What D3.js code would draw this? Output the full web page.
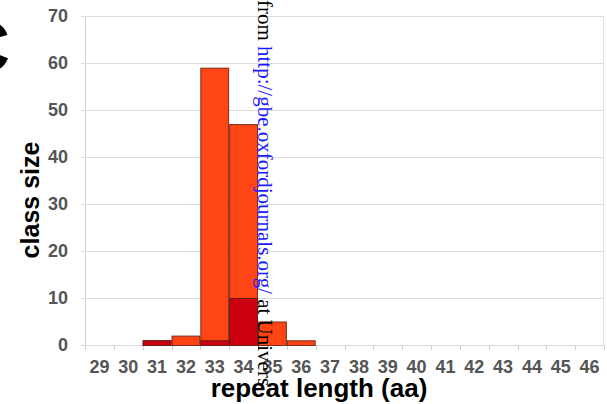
<!DOCTYPE html>
<html>
<head>
<meta charset="utf-8">
<script src="https://cdn.jsdelivr.net/npm/d3@7"></script>
<style>
  html, body { margin: 0; padding: 0; background: #fff; }
  svg { display: block; }
</style>
</head>
<body>
<svg id="chart" width="607" height="404"></svg>
<script>
// Repeat length classes (aa) and class sizes
const categories = [29, 30, 31, 32, 33, 34, 35, 36, 37, 38, 39, 40, 41, 42, 43, 44, 45, 46];
const totalCounts = [0, 0, 1, 2, 59, 47, 5, 1, 0, 0, 0, 0, 0, 0, 0, 0, 0, 0];
const subsetCounts = [0, 0, 1, 0, 1, 10, 0, 0, 0, 0, 0, 0, 0, 0, 0, 0, 0, 0];
const yTicks = [0, 10, 20, 30, 40, 50, 60, 70];

const svg = d3.select("#chart");
const plot = { left: 85, right: 604, top: 16, bottom: 345 };

const x = d3.scaleBand().domain(categories).range([plot.left, plot.right]).padding(0);
const y = d3.scaleLinear().domain([0, 70]).range([plot.bottom, plot.top]);

const font = "Arial, 'Liberation Sans', Helvetica, sans-serif";

// Horizontal grid lines
svg.append("g")
  .selectAll("line")
  .data(yTicks)
  .join("line")
  .attr("x1", plot.left - 4)
  .attr("x2", plot.right)
  .attr("y1", d => y(d) + 0.5)
  .attr("y2", d => y(d) + 0.5)
  .attr("stroke", "#dcdcdc")
  .attr("stroke-width", 1);

// Plot frame sides
svg.append("line")
  .attr("x1", plot.left + 0.5).attr("x2", plot.left + 0.5)
  .attr("y1", plot.top).attr("y2", plot.bottom)
  .attr("stroke", "#d4d4d4");
svg.append("line")
  .attr("x1", plot.right - 0.5).attr("x2", plot.right - 0.5)
  .attr("y1", plot.top).attr("y2", plot.bottom)
  .attr("stroke", "#e4e4e4");

// Category boundary ticks below the x axis
const boundaries = categories.map(c => x(c)).concat([plot.right]);
svg.append("g")
  .selectAll("line")
  .data(boundaries)
  .join("line")
  .attr("x1", d => Math.round(d) + 0.5)
  .attr("x2", d => Math.round(d) + 0.5)
  .attr("y1", plot.bottom)
  .attr("y2", plot.bottom + 5)
  .attr("stroke", "#d0d0d0");

// Y tick labels
svg.append("g")
  .selectAll("text")
  .data(yTicks)
  .join("text")
  .attr("x", 68)
  .attr("y", d => y(d))
  .attr("dy", "0.36em")
  .attr("text-anchor", "end")
  .attr("font-family", font)
  .attr("font-weight", "bold")
  .attr("font-size", 18)
  .attr("fill", "#555")
  .text(d => d);

// X tick labels
svg.append("g")
  .selectAll("text")
  .data(categories)
  .join("text")
  .attr("x", d => x(d) + x.bandwidth() / 2)
  .attr("y", 373)
  .attr("text-anchor", "middle")
  .attr("font-family", font)
  .attr("font-weight", "bold")
  .attr("font-size", 18)
  .attr("fill", "#555")
  .text(d => d);

// All repeats
svg.append("g")
  .selectAll("rect")
  .data(categories.map((c, i) => ({ c, v: totalCounts[i] })).filter(d => d.v > 0))
  .join("rect")
  .attr("x", d => x(d.c) + 0.5)
  .attr("y", d => y(d.v) + 0.5)
  .attr("width", x.bandwidth() - 1)
  .attr("height", d => y(0) - y(d.v))
  .attr("fill", "#ff4513")
  .attr("stroke", "#7a2a18")
  .attr("stroke-width", 1);

// Subset drawn over the totals
svg.append("g")
  .selectAll("rect")
  .data(categories.map((c, i) => ({ c, v: subsetCounts[i] })).filter(d => d.v > 0))
  .join("rect")
  .attr("x", d => x(d.c) + 0.5)
  .attr("y", d => y(d.v) + 0.5)
  .attr("width", x.bandwidth() - 1)
  .attr("height", d => y(0) - y(d.v))
  .attr("fill", "#cc0010")
  .attr("stroke", "#6e1a14")
  .attr("stroke-width", 1);

// Axis titles
svg.append("text")
  .attr("transform", "translate(39,200) rotate(-90)")
  .attr("text-anchor", "middle")
  .attr("font-family", font)
  .attr("font-weight", "bold")
  .attr("font-size", 25)
  .attr("fill", "#000")
  .text("class size");

svg.append("text")
  .attr("x", 319)
  .attr("y", 397)
  .attr("text-anchor", "middle")
  .attr("font-family", font)
  .attr("font-weight", "bold")
  .attr("font-size", 26)
  .attr("fill", "#000")
  .text("repeat length (aa)");

// Panel letter
svg.append("text")
  .attr("x", -42)
  .attr("y", 72)
  .attr("font-family", font)
  .attr("font-weight", "bold")
  .attr("font-size", 72)
  .attr("fill", "#000")
  .text("C");

// Vertical source line
const src = svg.append("text")
  .attr("transform", "translate(258,0) rotate(90) scale(1,0.95)")
  .attr("font-family", "'Liberation Serif', 'Times New Roman', serif")
  .attr("font-size", 21)
  .attr("fill", "#000");
src.append("tspan").text("from ");
src.append("tspan").attr("fill", "#1a1aff").text("http://gbe.oxfordjournals.org/");
src.append("tspan").text(" at Univers");
</script>
</body>
</html>
